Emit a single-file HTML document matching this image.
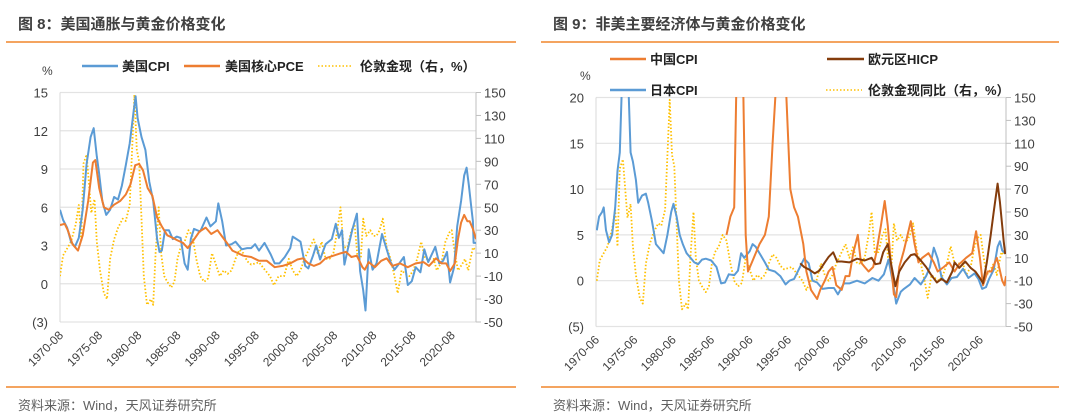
<!DOCTYPE html>
<html><head><meta charset="utf-8">
<style>
body{margin:0;background:#fff;width:1080px;height:412px;overflow:hidden;font-family:"Liberation Sans","Noto Sans CJK SC",sans-serif;}
svg text{font-family:"Liberation Sans","Noto Sans CJK SC",sans-serif;}
</style></head>
<body>
<svg id="s" width="1080" height="412" xmlns="http://www.w3.org/2000/svg">
<defs>
<clipPath id="cl"><rect x="60" y="80" width="416" height="243"/></clipPath>
<clipPath id="cr"><rect x="596" y="97" width="410" height="230"/></clipPath>
</defs>
<g>
<text x="18" y="29" font-size="15" font-weight="bold" fill="#404040">图 8：美国通胀与黄金价格变化</text>
<rect x="6" y="41" width="510" height="2" fill="#f4a460"/>
<rect x="6" y="386" width="510" height="2" fill="#f4a460"/>
<text x="18" y="410" font-size="13" fill="#606060">资料来源：Wind，天风证券研究所</text>
</g>
<g>
<text x="553" y="29" font-size="15" font-weight="bold" fill="#404040">图 9：非美主要经济体与黄金价格变化</text>
<rect x="541" y="41" width="518" height="2" fill="#f4a460"/>
<rect x="541" y="386" width="518" height="2" fill="#f4a460"/>
<text x="553" y="410" font-size="13" fill="#606060">资料来源：Wind，天风证券研究所</text>
</g>
<g>
<line x1="82" y1="66" x2="118" y2="66" stroke="#5b9bd5" stroke-width="2.5"/>
<text x="122" y="71" font-size="13" font-weight="bold" fill="#222">美国CPI</text>
<line x1="184" y1="66" x2="220" y2="66" stroke="#ed7d31" stroke-width="2.5"/>
<text x="225" y="71" font-size="13" font-weight="bold" fill="#222">美国核心PCE</text>
<line x1="318" y1="66" x2="352" y2="66" stroke="#ffc000" stroke-width="1.5" stroke-dasharray="1.5,2"/>
<text x="360" y="71" font-size="13" font-weight="bold" fill="#222">伦敦金现（右，%）</text>
<text x="42" y="75" font-size="12" fill="#404040">%</text>
</g>
<g>
<line x1="610" y1="59" x2="646" y2="59" stroke="#ed7d31" stroke-width="2.5"/>
<text x="650" y="64" font-size="13" font-weight="bold" fill="#222">中国CPI</text>
<line x1="827" y1="59" x2="864" y2="59" stroke="#843c0c" stroke-width="2.5"/>
<text x="868" y="64" font-size="13" font-weight="bold" fill="#222">欧元区HICP</text>
<line x1="610" y1="90" x2="646" y2="90" stroke="#5b9bd5" stroke-width="2.5"/>
<text x="650" y="95" font-size="13" font-weight="bold" fill="#222">日本CPI</text>
<line x1="826" y1="90" x2="862" y2="90" stroke="#ffc000" stroke-width="1.5" stroke-dasharray="1.5,2"/>
<text x="868" y="95" font-size="13" font-weight="bold" fill="#222">伦敦金现同比（右，%）</text>
<text x="580" y="80" font-size="12" fill="#404040">%</text>
</g>
<g id="L"></g><g id="R"></g>
</svg>
<script>
const usCpiT=[1970.6,1971,1971.5,1972,1972.5,1973,1973.5,1974,1974.5,1974.9,1975.3,1975.6,1976,1976.5,1977,1977.5,1978,1978.5,1979,1979.5,1980,1980.25,1980.5,1981,1981.5,1982,1982.5,1983,1983.3,1983.6,1984,1984.5,1985,1985.5,1986,1986.5,1986.9,1987.3,1987.7,1988.5,1989.3,1989.8,1990.5,1990.8,1991.3,1991.8,1992.5,1993,1993.8,1994.5,1995,1995.5,1996,1996.7,1997.5,1998,1998.6,1999.3,2000,2000.3,2000.8,2001.3,2001.9,2002.3,2002.9,2003.3,2003.8,2004.5,2005.3,2005.8,2006.2,2006.6,2006.9,2007.3,2007.9,2008.5,2008.9,2009.3,2009.6,2010,2010.5,2011,2011.7,2012.3,2012.8,2013.3,2013.8,2014.5,2015,2015.5,2016,2016.6,2017.1,2017.6,2018.5,2019,2019.5,2020,2020.4,2020.9,2021.3,2021.8,2022.2,2022.5,2022.8,2023.1,2023.3,2023.4,2023.7];
const usCpiV=[5.8,5,4.4,3.3,2.9,3.6,5.8,9.4,11.5,12.2,10,8.6,6.5,5.4,5.8,6.8,6.6,7.7,9.3,11,13.5,14.7,13,11.5,10.5,8,6.5,3.5,2.5,2.6,4.2,4.2,3.5,3.7,3.6,1.6,1.1,3.5,4.3,4.1,5.2,4.5,4.9,6.3,4.9,3,3.1,3.3,2.7,2.8,2.8,3.1,2.6,3.2,2.3,1.6,1.6,2.1,2.8,3.7,3.5,3.3,1.4,1.2,2.2,3,1.9,3.1,3.5,4.7,3.6,4.2,1.5,2.6,4.2,5.5,1,-0.5,-2.1,2.7,1.1,1.6,3.9,2.7,1.7,1.1,1.5,2.1,-0.1,0.2,1.3,0.9,2.7,1.7,2.9,1.6,1.8,2.5,0.1,1.3,4.5,6.5,8.5,9.1,7.7,6,4.9,3.2,3.2];
const usPceT=[1970.6,1971.2,1971.6,1972.2,1972.9,1973.5,1974.2,1974.8,1975.1,1975.6,1976.2,1976.8,1977.5,1978.3,1979,1979.6,1980.2,1980.7,1981.2,1981.8,1982.4,1983,1983.6,1984.3,1985,1985.6,1986.3,1986.9,1987.4,1988.4,1989.2,1989.9,1990.7,1991.3,1991.9,1992.6,1993.3,1994,1995,1996,1997,1998,1999,2000,2000.9,2001.6,2002.3,2003,2003.8,2004.5,2005.5,2006.5,2007.1,2007.8,2008.5,2009.2,2009.5,2010,2010.8,2011.6,2012.3,2013,2014,2015,2016,2017,2017.7,2018.6,2019.3,2019.9,2020.4,2021,2021.4,2021.8,2022.2,2022.6,2022.9,2023.3,2023.7];
const usPceV=[4.6,4.7,4.2,3.1,2.6,3.8,6.5,9.5,9.7,7.5,6,5.8,6.2,6.5,7,7.8,9.3,9.4,8.9,7.5,6.9,5.2,4.5,3.8,3.6,3.4,3.2,2.8,3.2,4.1,4.4,3.9,4.2,3.7,3.2,2.6,2.4,2.2,2.1,1.8,1.8,1.3,1.4,1.6,1.9,2,1.6,1.4,1.6,2,2.2,2.4,2.5,2.1,2.2,1.3,1.1,1.7,1.3,1.8,2,1.4,1.6,1.3,1.6,1.7,1.4,2,1.6,1.6,1,1.6,3.5,4.8,5.4,4.9,4.9,4.3,3.5];
const goldT=[1970.6,1971,1971.5,1972,1972.6,1973,1973.3,1973.6,1974,1974.3,1974.6,1975,1975.3,1975.7,1976.2,1976.6,1977,1977.5,1978,1978.6,1979,1979.5,1980,1980.1,1980.4,1980.7,1981,1981.3,1981.7,1982.2,1982.5,1982.8,1983.2,1983.5,1983.9,1984.3,1984.8,1985.2,1985.6,1986,1986.5,1987,1987.5,1988,1988.5,1989,1989.5,1990,1990.5,1991,1991.5,1992,1992.5,1993,1993.5,1994,1994.5,1995,1996,1996.8,1997.4,1997.9,1998.5,1999.2,1999.8,2000.3,2000.8,2001.3,2001.8,2002.5,2003,2003.5,2004,2004.5,2005,2005.5,2006,2006.4,2006.8,2007.3,2007.8,2008.2,2008.6,2009,2009.3,2009.7,2010.2,2010.6,2011,2011.4,2011.8,2012.3,2012.8,2013.3,2013.7,2014.2,2014.7,2015.2,2015.7,2016.2,2016.7,2017.2,2017.7,2018.3,2018.7,2019.3,2019.8,2020.3,2020.6,2021,2021.4,2021.9,2022.3,2022.7,2023,2023.3,2023.7];
const goldV=[-10,8,14,20,35,52,20,88,96,70,45,57,20,-5,-25,-30,5,22,32,40,38,52,130,148,100,90,40,-10,-35,-30,-35,10,50,10,-10,-15,-20,-15,5,15,20,30,25,5,-10,-15,-12,10,0,-10,-5,-8,-5,5,13,10,3,0,2,-5,-10,-18,-10,-10,5,-5,-10,-5,5,15,22,10,20,5,5,10,30,50,15,15,30,35,5,5,40,25,30,25,25,30,40,15,5,-10,-25,-5,-8,-10,-5,5,20,5,5,5,-5,2,20,28,30,10,-5,0,5,-5,5,15,12];
const cnT=[1987.5,1988,1988.5,1988.8,1989.2,1989.7,1990,1990.3,1990.8,1991.3,1991.8,1992.5,1993,1993.5,1994,1994.8,1995.3,1995.8,1996.3,1996.8,1997.5,1997.9,1998.5,1999.3,1999.7,2000.3,2000.8,2001.3,2001.8,2002.5,2003,2003.5,2004,2004.6,2005,2005.5,2006,2006.6,2007,2007.6,2008.1,2008.5,2008.9,2009.3,2009.6,2010,2010.6,2011.5,2012,2012.5,2013,2013.8,2014.5,2015,2015.8,2016.5,2017.2,2017.8,2018.7,2019.5,2020,2020.5,2020.9,2021.5,2022,2022.7,2023,2023.4,2023.7,2023.9];
const cnV=[5,7,8,22,28,20,5,1,2,3,4,5,7,15,22,27,20,10,8,7,4,1,-1,-2,-1,0,1,1.5,-0.5,-1,0.5,0.5,3,5,2,1.5,1,1.5,3,6,8.7,6,2,-1.5,-1.8,1.5,3.3,6.5,4,2,2.5,3,2,1,1.5,2,1,1.8,2.5,3,5.4,2.5,-0.5,1,1,2.5,1.5,0,-0.5,0.5];
const ezT=[1997.1,1997.6,1998.3,1999,1999.6,2000.3,2000.8,2001.4,2001.9,2002.5,2003.5,2004.5,2005.5,2006.4,2006.9,2007.5,2007.9,2008.5,2008.9,2009.5,2010,2010.7,2011.5,2012,2012.8,2013.5,2014.1,2014.9,2015.5,2016.2,2016.9,2017.2,2017.8,2018.6,2019.3,2019.9,2020.5,2020.9,2021.4,2021.9,2022.3,2022.8,2023.1,2023.4,2023.6,2023.8];
const ezV=[1.9,1.5,1.2,0.8,1.1,2,2.6,3.1,2.1,2.1,2,2.4,2.2,2.5,1.8,1.9,3.1,4,2,-0.6,1,2,2.8,2.9,2.2,1.5,0.7,-0.2,0.2,-0.2,1,2,1.4,2.1,1.4,1,0.3,-0.3,2,4.9,7.5,10.6,8.6,6,4.3,2.9];
const jpT=[1970.6,1970.9,1971.3,1971.5,1971.8,1972.2,1972.6,1973,1973.3,1973.6,1973.9,1974.3,1974.5,1974.7,1975,1975.3,1975.7,1976,1976.5,1977,1977.3,1977.8,1978.3,1978.8,1979.3,1979.8,1980.3,1980.6,1981,1981.4,1981.8,1982.3,1982.7,1983.3,1983.8,1984.3,1984.8,1985.5,1986.2,1986.8,1987.3,1987.8,1988.5,1989,1989.4,1989.8,1990.5,1990.9,1991.3,1991.8,1992.5,1993,1993.8,1994.5,1995.2,1995.7,1996.3,1997.3,1997.6,1998.2,1998.7,1999.3,2000,2000.8,2001.5,2002,2002.8,2003.5,2004.5,2005.5,2006.5,2007.3,2008,2008.6,2009.2,2009.6,2010.2,2010.6,2011.4,2012,2012.8,2013.5,2014,2014.5,2015,2015.5,2016.2,2016.8,2017.5,2018.3,2019,2019.8,2020.3,2020.8,2021.3,2021.7,2022.3,2022.8,2023.1,2023.4,2023.8];
const jpV=[5.5,7,7.5,8,5.5,4.2,5,8,12,14,22,24,24,22,14,13,11,8.5,9.3,9.5,8.5,6.5,4,3.5,3,5,7.5,8.4,7,5,4,3,2.6,2,1.8,2.3,2.4,2.2,1.5,-0.3,-0.2,0.7,0.6,1.1,3,2.5,3.2,4,3.7,3,2,1.2,1,0.5,-0.4,0,0.2,1.9,2.4,1.9,0,-0.2,-0.9,-0.8,-0.8,-1.5,-0.3,-0.3,0,-0.3,0.3,0,0.7,2.3,-0.3,-2.5,-1.2,-0.9,-0.4,0.3,-0.4,0.5,1.5,3.6,2.4,0.4,-0.4,0.3,0.4,1.3,0.3,0.8,0.2,-0.9,-0.7,0.2,1.2,3.7,4.3,3.3,3];
const leftYTicks=[15,12,9,6,3,0,-3];
const leftYLabels=["15","12","9","6","3","0","(3)"];
const leftY2Ticks=[150,130,110,90,70,50,30,10,-10,-30,-50];
const rightYTicks=[20,15,10,5,0,-5];
const rightYLabels=["20","15","10","5","0","(5)"];
const rightY2Ticks=[150,130,110,90,70,50,30,10,-10,-30,-50];
const leftXLabels=["1970-08","1975-08","1980-08","1985-08","1990-08","1995-08","2000-08","2005-08","2010-08","2015-08","2020-08"];
const rightXLabels=["1970-06","1975-06","1980-06","1985-06","1990-06","1995-06","2000-06","2005-06","2010-06","2015-06","2020-06"];
const NS="http://www.w3.org/2000/svg";
function mk(p,tag,at){const e=document.createElementNS(NS,tag);for(const k in at)e.setAttribute(k,at[k]);p.appendChild(e);return e;}
function panel(g,cfg){
  const x=t=>cfg.x0+(t-cfg.t0)/(cfg.t1-cfg.t0)*(cfg.x1-cfg.x0);
  const y=v=>cfg.yb+(v-cfg.ymin)/(cfg.ymax-cfg.ymin)*(cfg.yt-cfg.yb);
  const y2=v=>cfg.yb+(v+50)/200*(cfg.yt-cfg.yb);
  cfg.yTicks.forEach((v,i)=>{
    const gl=mk(g,'line',{x1:cfg.x0,x2:cfg.x1,y1:y(v),y2:y(v),stroke:'#e3e3e3','stroke-width':1.2});
    
    
    const t=mk(g,'text',{x:cfg.x0-12,y:y(v)+5,'font-size':13,fill:'#404040','text-anchor':'end'});
    t.textContent=cfg.yLabels[i];
    
    
  });
  cfg.y2Ticks.forEach(v=>{
    const tk=mk(g,'line',{x1:cfg.x1,x2:cfg.x1+5,y1:y2(v),y2:y2(v),stroke:'#bfbfbf'});
    
    
    const t=mk(g,'text',{x:cfg.x1+8,y:y2(v)+5,'font-size':13,fill:'#404040'});
    t.textContent=String(v);
    
    
  });
  const ax=mk(g,'line',{x1:cfg.x0,x2:cfg.x0,y1:cfg.yt,y2:cfg.yb,stroke:'#d9d9d9'});
  
  
  const ax2=mk(g,'line',{x1:cfg.x1,x2:cfg.x1,y1:cfg.yt,y2:cfg.yb,stroke:'#bfbfbf'});
  
  
  cfg.xLabels.forEach((s,i)=>{
    const xx=x(1970+(cfg.t0%1)+i*5)+4;
    const t=mk(g,'text',{x:xx,y:cfg.yb+14,'font-size':12,fill:'#404040','text-anchor':'end',transform:`rotate(-45 ${xx} ${cfg.yb+14})`});
    t.textContent=s;
    
    
  });
  const pg=mk(g,'g',{'clip-path':`url(#${cfg.clip})`});
  
  
  cfg.series.forEach(s=>{
    const f=s.right?y2:y;
    const d=s.t.map((t,i)=>(i?'L':'M')+x(t).toFixed(1)+','+f(s.v[i]).toFixed(1)).join('');
    const p=mk(pg,'path',{d:d,fill:'none',stroke:s.c,'stroke-width':s.dash?1.8:2,'stroke-dasharray':s.dash?'1.5,2':'none','stroke-linejoin':'round'});
    
    
  });
}
panel(document.getElementById('L'),{x0:60,x1:476,t0:1970.6,t1:2023.7,yt:92.5,yb:322,ymin:-3,ymax:15,clip:'cl',
  yTicks:leftYTicks,yLabels:leftYLabels,y2Ticks:leftY2Ticks,xLabels:leftXLabels,
  series:[{t:goldT,v:goldV,c:'#ffc000',dash:1,right:1,name:'gold-series'},{t:usCpiT,v:usCpiV,c:'#5b9bd5',name:'us-cpi-series'},{t:usPceT,v:usPceV,c:'#ed7d31',name:'us-core-pce-series'}]});
panel(document.getElementById('R'),{x0:596,x1:1006,t0:1970.5,t1:2023.9,yt:97.5,yb:326.5,ymin:-5,ymax:20,clip:'cr',
  yTicks:rightYTicks,yLabels:rightYLabels,y2Ticks:rightY2Ticks,xLabels:rightXLabels,
  series:[{t:goldT,v:goldV,c:'#ffc000',dash:1,right:1,name:'gold-yoy-series'},{t:jpT,v:jpV,c:'#5b9bd5',name:'japan-cpi-series'},{t:cnT,v:cnV,c:'#ed7d31',name:'china-cpi-series'},{t:ezT,v:ezV,c:'#843c0c',name:'eurozone-hicp-series'}]});
</script>
</body></html>
